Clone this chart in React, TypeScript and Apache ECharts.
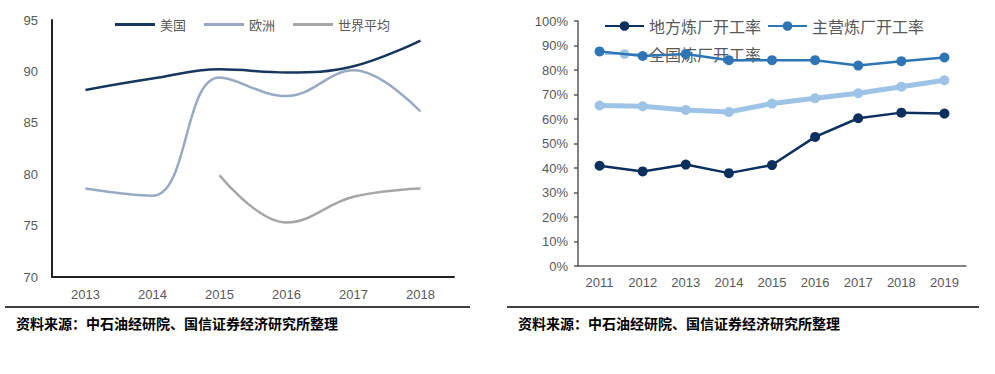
import React, { useEffect, useRef } from "react";
import * as echarts from "echarts";

const leftYears = ["2013", "2014", "2015", "2016", "2017", "2018"];
const usa = [88.2, 89.3, 90.2, 89.9, 90.5, 93.0];
const europe = [78.6, 77.9, 89.4, 87.6, 90.1, 86.1];
const world = [null, null, 79.9, 75.3, 77.8, 78.6];

const rightYears = ["2011", "2012", "2013", "2014", "2015", "2016", "2017", "2018", "2019"];
const local = [40.9, 38.6, 41.4, 37.9, 41.2, 52.7, 60.3, 62.6, 62.2];
const major = [87.6, 85.7, 86.5, 84.0, 84.0, 84.0, 81.8, 83.6, 85.1];
const national = [65.5, 65.2, 63.7, 62.9, 66.3, 68.5, 70.5, 73.2, 75.8];

const sourceText = "资料来源：中石油经研院、国信证券经济研究所整理";

const C_USA = "#17375e";
const C_EU = "#97aac2";
const C_WORLD = "#a6a6a6";
const C_LOCAL = "#0c2f5e";
const C_MAJOR = "#2e75b6";
const C_NAT = "#9dc3e6";

const labelFont = { color: "#595959", fontSize: 13, fontFamily: "Liberation Sans, Arial" };
const legendFont = { color: "#595959", fontSize: 13, fontFamily: "Noto Sans CJK SC" };

export default function App() {
  const ref = useRef<HTMLDivElement>(null);
  useEffect(() => {
    if (!ref.current) return;
    const chart = echarts.init(ref.current, null, { renderer: "svg" });
    chart.setOption({
      animation: false,
      backgroundColor: "#ffffff",
      grid: [
        { left: 52, right: 541, top: 20, bottom: 97 },
        { left: 578, right: 29, top: 21, bottom: 108 },
      ],
      legend: [
        {
          left: 110,
          top: 13,
          icon: "rect",
          itemWidth: 40,
          itemHeight: 3,
          itemGap: 18,
          textStyle: legendFont,
          data: ["美国", "欧洲", "世界平均"],
          z: 1,
        },
        {
          left: 599,
          top: 13,
          itemWidth: 39,
          itemHeight: 12,
          itemGap: 6,
          textStyle: { ...legendFont, fontSize: 16 },
          data: ["地方炼厂开工率", "主营炼厂开工率"],
          z: 1,
        },
        {
          left: 599,
          top: 41,
          itemWidth: 39,
          itemHeight: 12,
          textStyle: { ...legendFont, fontSize: 16 },
          data: ["全国炼厂开工率"],
          z: 1,
        },
      ],
      xAxis: [
        {
          type: "category",
          gridIndex: 0,
          data: leftYears,
          boundaryGap: true,
          axisLine: { lineStyle: { color: "#222", width: 2 } },
          axisTick: { inside: true, length: 4, lineStyle: { color: "#222", width: 1.5 } },
          axisLabel: { ...labelFont, margin: 11 },
        },
        {
          type: "category",
          gridIndex: 1,
          data: rightYears,
          boundaryGap: true,
          axisLine: { lineStyle: { color: "#595959", width: 1.5 } },
          axisTick: { length: 4, lineStyle: { color: "#595959", width: 1.5 } },
          axisLabel: { ...labelFont, margin: 10 },
        },
      ],
      yAxis: [
        {
          type: "value",
          gridIndex: 0,
          min: 70,
          max: 95,
          interval: 5,
          splitLine: { show: false },
          axisLine: { show: true, lineStyle: { color: "#222", width: 2 } },
          axisTick: { show: false },
          axisLabel: { ...labelFont, margin: 14 },
        },
        {
          type: "value",
          gridIndex: 1,
          min: 0,
          max: 100,
          interval: 10,
          splitLine: { show: false },
          axisLine: { show: true, lineStyle: { color: "#595959", width: 1.5 } },
          axisTick: { show: true, length: 4, lineStyle: { color: "#595959", width: 1.5 } },
          axisLabel: { ...labelFont, margin: 10, formatter: "{value}%" },
        },
      ],
      series: [
        {
          name: "美国",
          type: "line",
          xAxisIndex: 0,
          yAxisIndex: 0,
          data: usa,
          smooth: 0.4,
          symbol: "none",
          lineStyle: { color: C_USA, width: 2.5 },
          itemStyle: { color: C_USA },
        },
        {
          name: "欧洲",
          type: "line",
          xAxisIndex: 0,
          yAxisIndex: 0,
          data: europe,
          smooth: 0.4,
          symbol: "none",
          lineStyle: { color: C_EU, width: 2.5 },
          itemStyle: { color: C_EU },
        },
        {
          name: "世界平均",
          type: "line",
          xAxisIndex: 0,
          yAxisIndex: 0,
          data: world,
          smooth: 0.4,
          symbol: "none",
          lineStyle: { color: C_WORLD, width: 2.5 },
          itemStyle: { color: C_WORLD },
        },
        {
          name: "全国炼厂开工率",
          type: "line",
          xAxisIndex: 1,
          yAxisIndex: 1,
          data: national,
          symbol: "circle",
          symbolSize: 10,
          lineStyle: { color: C_NAT, width: 5 },
          itemStyle: { color: C_NAT },
        },
        {
          name: "地方炼厂开工率",
          type: "line",
          xAxisIndex: 1,
          yAxisIndex: 1,
          data: local,
          symbol: "circle",
          symbolSize: 10,
          lineStyle: { color: C_LOCAL, width: 2.5 },
          itemStyle: { color: C_LOCAL },
        },
        {
          name: "主营炼厂开工率",
          type: "line",
          xAxisIndex: 1,
          yAxisIndex: 1,
          data: major,
          symbol: "circle",
          symbolSize: 10,
          lineStyle: { color: C_MAJOR, width: 2.5 },
          itemStyle: { color: C_MAJOR },
        },
      ],
      graphic: [
        {
          type: "line",
          shape: { x1: 5, y1: 307, x2: 470, y2: 307 },
          style: { stroke: "#000", lineWidth: 1.5 },
        },
        {
          type: "line",
          shape: { x1: 507, y1: 307, x2: 979, y2: 307 },
          style: { stroke: "#000", lineWidth: 1.5 },
        },
        {
          type: "text",
          x: 16,
          y: 316,
          style: {
            text: sourceText,
            fill: "#000",
            font: "bold 14px 'Noto Sans CJK SC'",
          },
        },
        {
          type: "text",
          x: 518,
          y: 316,
          style: {
            text: sourceText,
            fill: "#000",
            font: "bold 14px 'Noto Sans CJK SC'",
          },
        },
      ],
    });
    return () => chart.dispose();
  }, []);
  return (
    <div
      ref={ref}
      style={{ position: "fixed", left: 0, top: 0, width: 995, height: 374, background: "#fff" }}
    />
  );
}
